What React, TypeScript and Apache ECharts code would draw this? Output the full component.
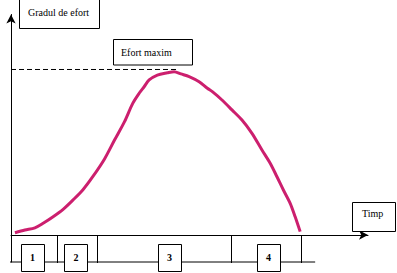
import React, { useEffect, useRef } from "react";
import * as echarts from "echarts";

// Curve: effort level over time (arbitrary units)
const time = [1.1, 3.9, 6.7, 9.0, 11.8, 14.6, 17.4, 20.1, 22.9, 26.2, 29.0, 31.8, 34.1, 35.9, 37.3, 38.7, 41.0, 43.8, 45.7, 47.6, 49.9, 52.7, 55.0, 56.4, 59.1, 61.9, 64.7, 67.5, 70.3, 72.6, 74.5, 76.3, 78.2, 79.6, 81.0];
const effort = [1.0, 2.2, 3.2, 5.2, 8.1, 11.4, 15.6, 20.0, 25.9, 33.8, 42.2, 50.4, 58.5, 63.0, 65.9, 68.9, 71.1, 72.1, 72.6, 71.6, 70.4, 68.1, 65.2, 63.7, 60.0, 55.6, 51.1, 45.2, 37.8, 31.9, 25.9, 20.0, 14.1, 8.1, 1.5];

// Maximum effort reference line
const maxEffort = 73.56;
const maxEffortEnd = 46.8;

// Phases along the time axis
const phaseLabels = ["1", "2", "3", "4"];
const phaseStarts = [0, 12.8, 24.2, 61.6];
const phaseEnds = [12.8, 24.2, 61.6, 81.1];
const phaseLabelAt = [6.0, 18.2, 44.4, 72.1];
const floorLevel = -12;
const floorExtent = [-2.5, 85.2];

// Texts
const yTitle = "Gradul de efort";
const maxTitle = "Efort maxim";
const xTitle = "Timp";

const FONT = '"Liberation Serif", "Times New Roman", serif';

export default function App() {
  const ref = useRef<HTMLDivElement>(null);
  useEffect(() => {
    const chart = echarts.init(ref.current!, null, { renderer: "svg" });
    const axisCommon = {
      type: "value" as const,
      splitLine: { show: false },
      axisTick: { show: false },
      axisLabel: { show: false },
    };
    chart.setOption({
      animation: false,
      backgroundColor: "#fff",
      grid: { left: 11, right: 29, top: 14.5, bottom: 11 },
      xAxis: {
        ...axisCommon,
        min: 0,
        max: 100,
        axisLine: {
          show: true,
          onZero: true,
          symbol: ["none", "arrow"],
          symbolSize: [7, 9],
          lineStyle: { color: "#000", width: 1 },
        },
      },
      yAxis: {
        ...axisCommon,
        min: floorLevel,
        max: 98,
        axisLine: {
          show: true,
          symbol: ["none", "arrow"],
          symbolSize: [7, 9],
          lineStyle: { color: "#000", width: 1 },
        },
      },
      series: [
        {
          type: "line",
          data: [
            [0, maxEffort],
            [maxEffortEnd, maxEffort],
          ],
          symbol: "none",
          lineStyle: { color: "#000", width: 1, type: [5, 3] },
          z: 1,
        },
        {
          type: "line",
          data: [
            [floorExtent[0], floorLevel],
            [floorExtent[1], floorLevel],
          ],
          symbol: "none",
          clip: false,
          lineStyle: { color: "#000", width: 1 },
          z: 1,
        },
        {
          type: "line",
          data: time.map((t, i) => [t, effort[i]]),
          smooth: 0.3,
          symbol: "none",
          lineStyle: { color: "#cc1f6e", width: 3 },
          z: 3,
        },
        {
          type: "custom",
          clip: false,
          data: phaseLabels.map((_, i) => [phaseStarts[i], phaseEnds[i], phaseLabelAt[i]]),
          renderItem: (params: any, api: any) => {
            const end = api.value(1);
            const at = api.value(2);
            const p0 = api.coord([end, 0]);
            const p1 = api.coord([end, floorLevel]);
            const c = api.coord([at, 0]);
            const lx = Math.round(p0[0]) + 0.5;
            return {
              type: "group",
              children: [
                {
                  type: "line",
                  shape: { x1: lx, y1: p0[1], x2: lx, y2: p1[1] + 1 },
                  style: { stroke: "#000", lineWidth: 1 },
                },
                {
                  type: "rect",
                  shape: { x: Math.round(c[0] - 11.5) + 0.5, y: Math.round(c[1]) + 9.5, width: 23, height: 27 },
                  style: { fill: "#fff", stroke: "#000", lineWidth: 1 },
                },
                {
                  type: "text",
                  x: c[0],
                  y: c[1] + 22,
                  style: {
                    text: phaseLabels[params.dataIndex],
                    fill: "#000",
                    fontFamily: FONT,
                    fontSize: 10,
                    fontWeight: "bold",
                    align: "center",
                    verticalAlign: "middle",
                  },
                },
              ],
            };
          },
          z: 4,
        },
      ],
      graphic: [
        {
          type: "rect",
          shape: { x: 19.5, y: -0.5, width: 80, height: 29 },
          style: { fill: "#fff", stroke: "#000", lineWidth: 1 },
          z: 5,
        },
        {
          type: "text",
          x: 28,
          y: 12,
          style: { text: yTitle, fill: "#000", fontFamily: FONT, fontSize: 10, verticalAlign: "middle" },
          z: 6,
        },
        {
          type: "rect",
          shape: { x: 113.5, y: 39.5, width: 79, height: 25.5 },
          style: { fill: "#fff", stroke: "#000", lineWidth: 1 },
          z: 5,
        },
        {
          type: "text",
          x: 121,
          y: 52,
          style: { text: maxTitle, fill: "#000", fontFamily: FONT, fontSize: 10, verticalAlign: "middle" },
          z: 6,
        },
        {
          type: "rect",
          shape: { x: 352.5, y: 202.5, width: 43, height: 29 },
          style: { fill: "#fff", stroke: "#000", lineWidth: 1 },
          z: 5,
        },
        {
          type: "text",
          x: 362,
          y: 213,
          style: { text: xTitle, fill: "#000", fontFamily: FONT, fontSize: 10, verticalAlign: "middle" },
          z: 6,
        },
      ],
    });
    return () => chart.dispose();
  }, []);
  return <div ref={ref} style={{ width: 397, height: 273, position: "absolute", left: 0, top: 0 }} />;
}
